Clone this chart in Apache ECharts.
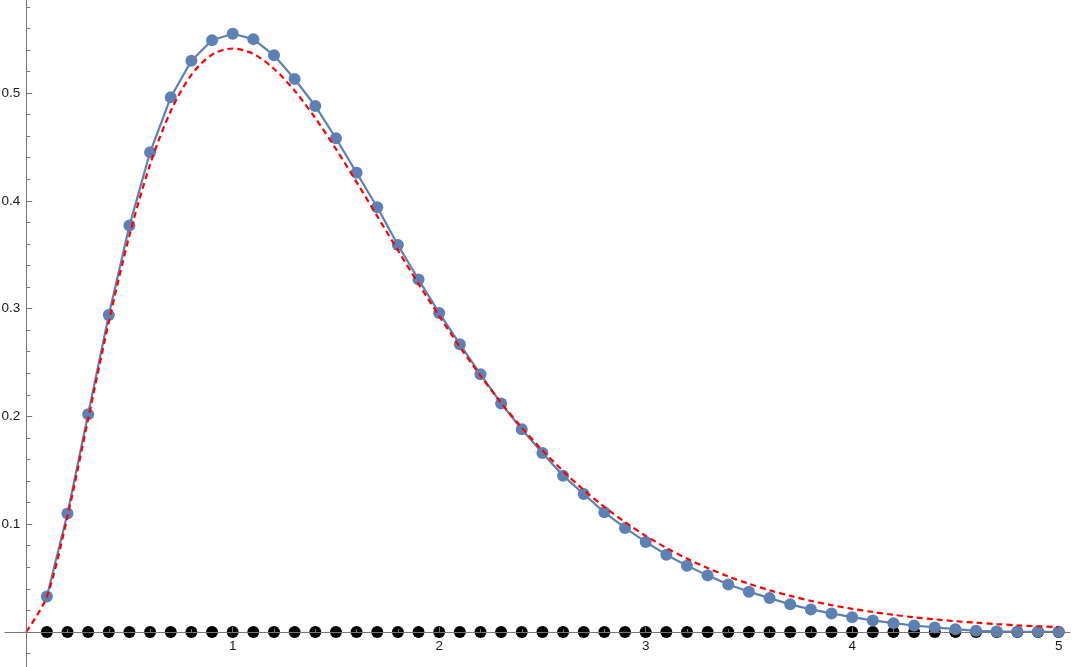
<!DOCTYPE html>
<html>
<head>
<meta charset="utf-8">
<script src="https://cdn.jsdelivr.net/npm/echarts@6/dist/echarts.min.js"></script>
<style>
  html, body { margin: 0; padding: 0; background: #fff; }
  #main { width: 1080px; height: 667px; }
</style>
</head>
<body>
<div id="main"></div>
<script>
// sample positions of the points
const xs = [0.1, 0.2, 0.3, 0.4, 0.5, 0.6, 0.7, 0.8, 0.9, 1.0,
  1.1, 1.2, 1.3, 1.4, 1.5, 1.6, 1.7, 1.8, 1.9, 2.0,
  2.1, 2.2, 2.3, 2.4, 2.5, 2.6, 2.7, 2.8, 2.9, 3.0,
  3.1, 3.2, 3.3, 3.4, 3.5, 3.6, 3.7, 3.8, 3.9, 4.0,
  4.1, 4.2, 4.3, 4.4, 4.5, 4.6, 4.7, 4.8, 4.9, 5.0]

// blue points
const blueValues = [0.033, 0.110, 0.202, 0.294, 0.377, 0.445, 0.496, 0.530, 0.549, 0.555,
  0.550, 0.535, 0.513, 0.488, 0.458, 0.426, 0.394, 0.359, 0.327, 0.296,
  0.267, 0.239, 0.212, 0.188, 0.166, 0.145, 0.128, 0.111, 0.0965, 0.0835,
  0.0717, 0.0615, 0.0525, 0.0441, 0.0374, 0.0314, 0.0256, 0.0209, 0.0172, 0.0137,
  0.0107, 0.0082, 0.0060, 0.0042, 0.0026, 0.0011, 0.0005, 0.0003, 0.0002, 0.0001]

// black points along the axis
const blackValues = [0, 0, 0, 0, 0, 0, 0, 0, 0, 0,
  0, 0, 0, 0, 0, 0, 0, 0, 0, 0,
  0, 0, 0, 0, 0, 0, 0, 0, 0, 0,
  0, 0, 0, 0, 0, 0, 0, 0, 0, 0,
  0, 0, 0, 0, 0, 0, 0, 0, 0, 0]

// red dashed curve
const redX = [0, 0.1, 0.2, 0.3, 0.4, 0.5, 0.6, 0.7, 0.8, 0.9, 1.0,
  1.1, 1.2, 1.3, 1.4, 1.5, 1.6, 1.7, 1.8, 1.9, 2.0,
  2.1, 2.2, 2.3, 2.4, 2.5, 2.6, 2.7, 2.8, 2.9, 3.0,
  3.1, 3.2, 3.3, 3.4, 3.5, 3.6, 3.7, 3.8, 3.9, 4.0,
  4.1, 4.2, 4.3, 4.4, 4.5, 4.6, 4.7, 4.8, 4.9, 5.0]
const redValues = [0, 0.0328, 0.1073, 0.1976, 0.2876, 0.3679, 0.4337, 0.4833, 0.5169, 0.5356, 0.5413,
  0.5363, 0.5225, 0.5021, 0.4768, 0.4481, 0.4174, 0.3858, 0.3541, 0.3230, 0.2931,
  0.2645, 0.2377, 0.2127, 0.1896, 0.1685, 0.1492, 0.1317, 0.1160, 0.1019, 0.0892,
  0.0780, 0.0681, 0.0593, 0.0515, 0.0447, 0.0387, 0.0335, 0.0289, 0.0249, 0.0215,
  0.0185, 0.0159, 0.0136, 0.0117, 0.0100, 0.0086, 0.0073, 0.0062, 0.0053, 0.0045]

// ticks and tick labels
const xMajorTicks = [1, 2, 3, 4, 5]
const xLabels = ['1', '2', '3', '4', '5']
const xMinorTicks = [0.2, 0.4, 0.6, 0.8, 1.2, 1.4, 1.6, 1.8, 2.2, 2.4, 2.6, 2.8,
  3.2, 3.4, 3.6, 3.8, 4.2, 4.4, 4.6, 4.8]
const yMajorTicks = [0.1, 0.2, 0.3, 0.4, 0.5]
const yLabels = ['0.1', '0.2', '0.3', '0.4', '0.5']
const yMinorTicks = [-0.02, 0.02, 0.04, 0.06, 0.08, 0.12, 0.14, 0.16, 0.18,
  0.22, 0.24, 0.26, 0.28, 0.32, 0.34, 0.36, 0.38, 0.42, 0.44, 0.46, 0.48,
  0.52, 0.54, 0.56, 0.58]

const X_MIN = -0.1027
const X_MAX = 5.055
const Y_MIN = -0.0325
const Y_MAX = 0.5863
const axisColor = '#777'
const labelStyle = { color: '#1a1a1a', fontSize: 13.5, fontFamily: 'Liberation Sans, Arial, sans-serif' }

function pairs (x, y) {
  let out = []
  for (let i = 0; i < x.length; i++) {
    out.push([x[i], y[i]])
  }
  return out
}

// only label the listed tick values
function labelFor (ticks, labels) {
  return function (value) {
    for (let i = 0; i < ticks.length; i++) {
      if (Math.abs(value - ticks[i]) < 1e-6) return labels[i]
    }
    return ''
  }
}

// axis that only draws a line and/or ticks at zero of the other axis
function lineAxis (min, max, pos, showLine, ticks, len, gridIndex) {
  return {
    type: 'value', gridIndex: gridIndex, min: min, max: max, position: pos, z: 10,
    axisLine: { show: showLine, onZero: true, onZeroAxisIndex: 0, lineStyle: { color: axisColor, width: 1 } },
    axisTick: { show: true, inside: true, length: len, customValues: ticks, lineStyle: { color: axisColor } },
    axisLabel: { show: false },
    splitLine: { show: false }
  }
}

// axis that only draws labels, sitting on the grid edge (which is zero)
function labelAxis (max, interval, pos, ticks, labels, margin) {
  return {
    type: 'value', gridIndex: 1, min: 0, max: max, interval: interval, position: pos, z: 10,
    axisLine: { show: false, onZero: false },
    axisTick: { show: false },
    axisLabel: { show: true, margin: margin, showMinLabel: false, showMaxLabel: false, hideOverlap: false, formatter: labelFor(ticks, labels), ...labelStyle },
    splitLine: { show: false }
  }
}

let chart = echarts.init(document.getElementById('main'))
chart.setOption({
  animation: false,
  backgroundColor: '#fff',
  grid: [
    // full area: series, axis lines and ticks
    { left: 5, right: 10, top: 0, bottom: 0, containLabel: false, outerBoundsMode: 'none' },
    // area starting at the origin: tick labels only
    { left: 26.2, right: 10, top: 0, bottom: 35, containLabel: false, outerBoundsMode: 'none' }
  ],
  xAxis: [
    lineAxis(X_MIN, X_MAX, 'bottom', true, xMajorTicks, 5, 0),
    lineAxis(X_MIN, X_MAX, 'bottom', false, xMinorTicks, 3, 0),
    labelAxis(X_MAX, 1, 'bottom', xMajorTicks, xLabels, 7)
  ],
  yAxis: [
    lineAxis(Y_MIN, Y_MAX, 'left', true, yMajorTicks, 6, 0),
    lineAxis(Y_MIN, Y_MAX, 'left', false, yMinorTicks, 4, 0),
    labelAxis(Y_MAX, 0.1, 'left', yMajorTicks, yLabels, 6)
  ],
  series: [
    {
      name: 'black',
      type: 'scatter',
      z: 2,
      symbol: 'circle',
      symbolSize: 12,
      itemStyle: { color: '#000', opacity: 1 },
      data: pairs(xs, blackValues)
    },
    {
      name: 'blue',
      type: 'line',
      z: 3,
      symbol: 'circle',
      symbolSize: 12,
      showSymbol: true,
      itemStyle: { color: '#5e81b5', opacity: 1 },
      lineStyle: { color: '#5e81b5', width: 2.2 },
      data: pairs(xs, blueValues)
    },
    {
      name: 'red',
      type: 'line',
      z: 4,
      showSymbol: false,
      smooth: 0.3,
      lineStyle: { color: '#ff0000', width: 2.2, type: [6, 4] },
      data: pairs(redX, redValues)
    }
  ]
})
</script>
</body>
</html>
